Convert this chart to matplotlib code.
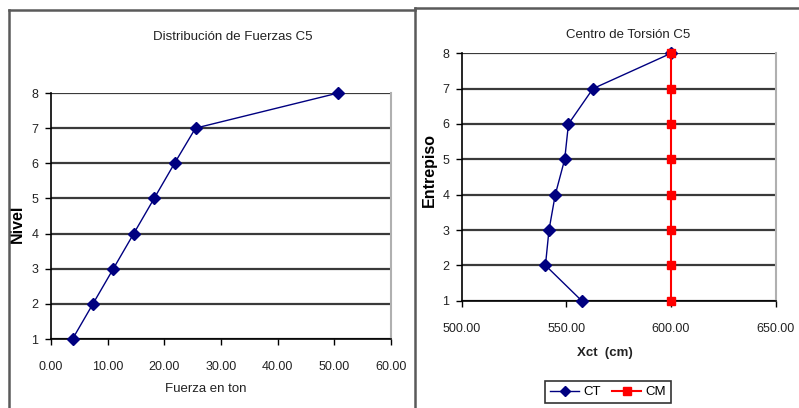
import matplotlib
matplotlib.use("Agg")
import matplotlib.pyplot as plt
from matplotlib.lines import Line2D

plt.rcParams['font.family'] = ['Liberation Sans Narrow', 'Liberation Sans', 'DejaVu Sans']

#Distribucion de fuerzas
niveles = [1, 2, 3, 4, 5, 6, 7, 8]
fuerza_ton = [3.8, 7.4, 11.0, 14.6, 18.2, 21.8, 25.5, 50.7]

#Centro de torsion
entrepiso = [1, 2, 3, 4, 5, 6, 7, 8]
xct_cm = [557.3, 540.0, 541.7, 544.7, 549.2, 551.0, 562.7, 600.0]
xcm_cm = [600, 600, 600, 600, 600, 600, 600, 600]

x_ticks_left = [0, 10, 20, 30, 40, 50, 60]
x_ticks_right = [500, 550, 600, 650]

W, H = 799, 408
fig = plt.figure(figsize=(W / 100, H / 100), dpi=100)

txt = "#222222"
grid_c = "#3a3a3a"


def style_axes(ax):
    ax.set_ylim(1, 8)
    ax.set_yticks(range(1, 9))
    ax.yaxis.grid(True, color=grid_c, linewidth=1.6)
    ax.set_axisbelow(True)
    ax.spines["top"].set_visible(False)
    ax.spines["right"].set_color("#b0b0b0")
    ax.spines["right"].set_linewidth(1.5)
    for s in ["left", "bottom"]:
        ax.spines[s].set_color("#000000")
        ax.spines[s].set_linewidth(1.2)
    ax.tick_params(direction="out", length=4, width=1, colors="#000000",
                   labelcolor=txt, labelsize=9)
    ax.tick_params(axis="x", pad=12)
    ax.tick_params(axis="y", pad=5)


# left chart
ax1 = fig.add_axes([51 / W, 1 - 339 / H, 340 / W, 246 / H])
ax1.plot(fuerza_ton, niveles, color="#000080", linewidth=1, marker="D",
         markersize=6, markerfacecolor="#000080", markeredgecolor="#000080",
         clip_on=False, zorder=3)
ax1.set_xlim(0, 60)
ax1.set_xticks(x_ticks_left)
ax1.set_xticklabels([f"{v:.2f}" for v in x_ticks_left])
style_axes(ax1)
ax1.set_xlabel("Fuerza en ton", fontsize=9.5, color=txt)
ax1.set_ylabel("Nivel", fontsize=11.5, fontweight="bold", color="#000000")
ax1.xaxis.set_label_coords(0.456, -0.179)
ax1.yaxis.set_label_coords(-0.077, 0.47)
fig.text(233 / W, 1 - 37 / H, "Distribución de Fuerzas C5", ha="center", va="center",
         fontsize=9.5, color=txt)

# right chart
ax2 = fig.add_axes([461.7 / W, 1 - 300.7 / H, 314 / W, 247.4 / H])
ax2.plot(xct_cm, entrepiso, color="#000080", linewidth=1, marker="D",
         markersize=6, markerfacecolor="#000080", markeredgecolor="#000080",
         label="CT", clip_on=False, zorder=3)
ax2.plot(xcm_cm, entrepiso, color="#ff0000", linewidth=1.5, marker="s",
         markersize=6, markerfacecolor="#ff0000", markeredgecolor="#ff0000",
         label="CM", clip_on=False, zorder=4)
ax2.set_xlim(500, 650)
ax2.set_xticks(x_ticks_right)
ax2.set_xticklabels([f"{v:.2f}" for v in x_ticks_right])
style_axes(ax2)
ax2.set_xlabel("Xct  (cm)", fontsize=9.5, fontweight="bold", color=txt)
ax2.set_ylabel("Entrepiso", fontsize=11.5, fontweight="bold", color="#000000")
ax2.xaxis.set_label_coords(0.456, -0.187)
ax2.yaxis.set_label_coords(-0.08, 0.53)
fig.text(628 / W, 1 - 35 / H, "Centro de Torsión C5", ha="center", va="center",
         fontsize=9.5, color=txt)

leg = fig.legend(loc="center", bbox_to_anchor=(608 / W, 1 - 392 / H), ncol=2,
                 fontsize=9.5, frameon=True, fancybox=False, edgecolor="#000000",
                 handlelength=2.2, columnspacing=0.9, handletextpad=0.3,
                 borderpad=0.4, markerscale=0.9)
leg.get_frame().set_linewidth(1.2)

# panel borders
border = "#5a5a5a"
fig.add_artist(Line2D([9 / W, 9 / W], [0, 1 - 10 / H], transform=fig.transFigure,
                      color=border, linewidth=1.8))
fig.add_artist(Line2D([9 / W, 415 / W], [1 - 10 / H, 1 - 10 / H], transform=fig.transFigure,
                      color=border, linewidth=1.8))
fig.add_artist(Line2D([415 / W, 415 / W], [0, 1 - 8 / H], transform=fig.transFigure,
                      color=border, linewidth=1.8))
fig.add_artist(Line2D([415 / W, 1], [1 - 8 / H, 1 - 8 / H], transform=fig.transFigure,
                      color=border, linewidth=1.8))

fig.savefig("out.png", dpi=100)
